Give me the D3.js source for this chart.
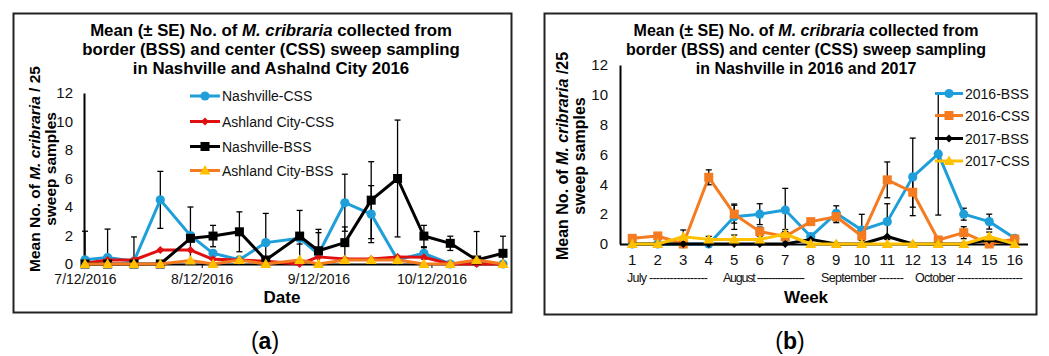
<!DOCTYPE html>
<html><head><meta charset="utf-8">
<script src="https://d3js.org/d3.v7.min.js"></script>
<style>
body{margin:0;background:#fff;}
text{font-family:"Liberation Sans",Arial,sans-serif;}
</style></head>
<body><svg id="c" width="1049" height="356"></svg>
<script>
// ---------- Data: panel (a) ----------
const leftDates = ["2016-07-12","2016-07-18","2016-07-25","2016-08-01","2016-08-09","2016-08-15","2016-08-22","2016-08-29","2016-09-07","2016-09-12","2016-09-19","2016-09-26","2016-10-03","2016-10-10","2016-10-17","2016-10-24","2016-10-31"];
const leftTickDates = ["2016-07-12","2016-08-12","2016-09-12","2016-10-12"];
const leftTickLabels = ["7/12/2016","8/12/2016","9/12/2016","10/12/2016"];
const nashCSS    = [0.3,0.45,0.2,4.5,2.0,0.75,0.3,1.5,1.8,0.7,4.3,3.5,0.3,0.75,0,0.1,0];
const nashCSSErr = [2.0,2.0,1.7,2.0,2.0,0,0,2.05,0.4,1.5,2.0,2.0,0,0.4,0,0,0];
const ashCSS     = [0.05,0.28,0.28,0.98,0.98,0.33,0.28,0.2,0,0.5,0.35,0.35,0.5,0.47,0,0,0];
const nashBSS    = [0,0,0,0,1.8,1.96,2.26,0.28,1.96,0.93,1.5,4.48,6.0,1.96,1.45,0.28,0.75];
const nashBSSErr = [0,0,0,0,0,0.75,1.4,0,1.8,1.5,1.1,2.7,4.1,0.75,0.5,2.0,1.2];
const ashBSS     = [0,0,0,0,0.25,0,0.28,0,0.28,0,0.28,0.28,0.28,0,0,0.28,0];
const leftNames  = ["Nashville-CSS","Ashland City-CSS","Nashville-BSS","Ashland City-BSS"];

// ---------- Data: panel (b) ----------
const weeks = ["1","2","3","4","5","6","7","8","9","10","11","12","13","14","15","16"];
const months = ["July -----------------","August ----------------","September -------","October -------------------"];
const bss2016    = [0,0,0,0,1.83,2.0,2.28,0.5,2.06,0.94,1.5,4.5,6.04,2.0,1.5,0.38];
const bss2016Err = [0,0,0,0,0.85,0.7,1.45,0,0.5,1.05,1.2,2.6,4.1,0.4,0.5,0];
const css2016    = [0.38,0.54,0,4.47,2.0,0.83,0.5,1.5,1.83,0.54,4.3,3.47,0.27,0.76,0,0.33];
const css2016Err = [0.1,0.2,0,0.5,0.6,0.3,0.3,0.2,0.4,0.3,1.2,1.0,0.2,0.4,0.1,0.1];
const bss2017    = [0,0,0,0,0,0,0,0.31,0,0,0.5,0,0,0,0.27,0];
const css2017    = [0,0,0.49,0.31,0.3,0.3,0.67,0,0,0,0,0,0,0,0.5,0];
const css2017Err = [0,0,0.45,0.2,0.3,0.3,0.3,0,0,0,0,0,0,0,0.3,0];
const rightNames = ["2016-BSS","2016-CSS","2017-BSS","2017-CSS"];
const yTicks = [0,2,4,6,8,10,12];

const svg = d3.select("#c");
const BLUE="#1f9fd9", RED="#e01010", ORANGE="#f47b20", YELLOW="#ffc000", BLACK="#000";

function marker(g, type, x, y, fill){
  if(type==="circle") g.append("circle").attr("cx",x).attr("cy",y).attr("r",4.6).attr("fill",fill);
  else if(type==="square") g.append("rect").attr("x",x-4.5).attr("y",y-4.5).attr("width",9).attr("height",9).attr("fill",fill);
  else if(type==="diamond") g.append("path").attr("d",`M${x},${y-4}L${x+4},${y}L${x},${y+4}L${x-4},${y}Z`).attr("fill",fill);
  else if(type==="triangle") g.append("path").attr("d",`M${x},${y-5.5}L${x+5.5},${y+4}L${x-5.5},${y+4}Z`).attr("fill",fill);
}
function errBars(g, xs, vals, errs, y){
  vals.forEach((v,i)=>{
    const e=errs[i]; if(!e) return;
    const x=xs[i], y1=y(v+e), y0=y(Math.max(v-e,0)), y0c=y(v-e);
    g.append("line").attr("x1",x).attr("x2",x).attr("y1",y1).attr("y2",y0).attr("stroke","#000").attr("stroke-width",1.3);
    g.append("line").attr("x1",x-3).attr("x2",x+3).attr("y1",y1).attr("y2",y1).attr("stroke","#000").attr("stroke-width",1.3);
    if(v-e>=0) g.append("line").attr("x1",x-3).attr("x2",x+3).attr("y1",y0c).attr("y2",y0c).attr("stroke","#000").attr("stroke-width",1.3);
  });
}
function series(g, xs, vals, y, line, mtype, mfill){
  const l=d3.line().x((d,i)=>xs[i]).y(d=>y(d));
  g.append("path").attr("d",l(vals)).attr("fill","none").attr("stroke",line).attr("stroke-width",3).attr("stroke-linejoin","round");
  vals.forEach((v,i)=>marker(g,mtype,xs[i],y(v),mfill));
}
function title(g, cx, l3, fs){
  const t=g.append("text").attr("text-anchor","middle").attr("font-weight","bold").attr("font-size",fs);
  const a=t.append("tspan").attr("x",cx).attr("y",36);
  a.append("tspan").text("Mean (\u00B1 SE) No. of ");
  a.append("tspan").attr("font-style","italic").text("M. cribraria");
  a.append("tspan").text(" collected from");
  t.append("tspan").attr("x",cx).attr("y",55).text("border (BSS) and center (CSS) sweep sampling");
  t.append("tspan").attr("x",cx).attr("y",74).text(l3);
}
function yTitle(g, x1, x2, cy, tail, fs){
  const t=g.append("text").attr("transform",`translate(${x1},${cy}) rotate(-90)`).attr("text-anchor","middle").attr("font-weight","bold").attr("font-size",fs);
  t.append("tspan").text("Mean No. of ");
  t.append("tspan").attr("font-style","italic").text("M. cribraria");
  t.append("tspan").text(tail);
  g.append("text").attr("transform",`translate(${x2},${cy}) rotate(-90)`).attr("text-anchor","middle").attr("font-weight","bold").attr("font-size",fs).text("sweep samples");
}

// ---------- Panel (a) ----------
{
  const g=svg.append("g");
  g.append("rect").attr("x",13.5).attr("y",13.5).attr("width",498).attr("height",299).attr("fill","none").attr("stroke","#222").attr("stroke-width",2);
  title(g, 271, "in Nashville and Ashalnd City 2016", 16.8);
  const parse=d3.utcParse("%Y-%m-%d");
  const x=d3.scaleUtc().domain([parse(leftDates[0]),parse(leftDates[leftDates.length-1])]).range([85,503]);
  const y=d3.scaleLinear().domain([0,12]).range([264,93]);
  const xs=leftDates.map(d=>x(parse(d)));
  const ya=g.append("g").attr("transform","translate(84,0)").call(d3.axisLeft(y).tickValues(yTicks).tickSize(0).tickPadding(11));
  ya.select(".domain").attr("stroke","#000").attr("stroke-width",2);
  ya.selectAll("text").attr("font-size",15).attr("font-family","Liberation Sans, Arial").attr("fill","#111");
  const xa=g.append("g").attr("transform","translate(0,264)").call(d3.axisBottom(x).tickValues(leftTickDates.map(parse)).tickFormat((d,i)=>leftTickLabels[i]).tickSizeInner(4).tickSizeOuter(0).tickPadding(6));
  xa.select(".domain").attr("stroke","#000").attr("stroke-width",2.2);
  xa.selectAll("text").attr("font-size",14).attr("font-family","Liberation Sans, Arial").attr("fill","#111");
  yTitle(g, 40, 56, 169, " / 25", 15.5);
  g.append("text").attr("x",282).attr("y",303).attr("text-anchor","middle").attr("font-weight","bold").attr("font-size",17).text("Date");
  const eb=g.append("g");
  errBars(eb,xs,nashCSS,nashCSSErr,y);
  errBars(eb,xs,nashBSS,nashBSSErr,y);
  series(g,xs,nashCSS,y,BLUE,"circle",BLUE);
  series(g,xs,ashCSS,y,RED,"diamond",RED);
  series(g,xs,nashBSS,y,BLACK,"square",BLACK);
  series(g,xs,ashBSS,y,ORANGE,"triangle",YELLOW);
  const lg=[[BLUE,"circle",BLUE],[RED,"diamond",RED],[BLACK,"square",BLACK],[ORANGE,"triangle",YELLOW]];
  const ly=[96,121.5,146.5,170.5];
  lg.forEach((s,i)=>{
    g.append("line").attr("x1",190).attr("x2",220).attr("y1",ly[i]).attr("y2",ly[i]).attr("stroke",s[0]).attr("stroke-width",3);
    marker(g,s[1],205,ly[i],s[2]);
    g.append("text").attr("x",222).attr("y",ly[i]+5).attr("font-size",14).attr("fill","#111").text(leftNames[i]);
  });
}

// ---------- Panel (b) ----------
{
  const g=svg.append("g");
  g.append("rect").attr("x",544.5).attr("y",13.5).attr("width",492).attr("height",301).attr("fill","none").attr("stroke","#222").attr("stroke-width",2);
  title(g, 806, "in Nashville in 2016 and 2017", 16.0);
  const x=d3.scaleBand().domain(weeks).range([619.5,1027.5]);
  const y=d3.scaleLinear().domain([0,12]).range([244,65]);
  const xs=weeks.map(w=>x(w)+x.bandwidth()/2);
  const ya=g.append("g").attr("transform","translate(620,0)").call(d3.axisLeft(y).tickValues(yTicks).tickSize(0).tickPadding(12));
  ya.select(".domain").attr("stroke","#000").attr("stroke-width",2);
  ya.selectAll("text").attr("font-size",15).attr("font-family","Liberation Sans, Arial").attr("fill","#111");
  const xa=g.append("g").attr("transform","translate(0,244)").call(d3.axisBottom(x).tickSize(0).tickPadding(10));
  xa.select(".domain").attr("stroke","#000").attr("stroke-width",2.2);
  xa.selectAll("text").attr("font-size",15).attr("font-family","Liberation Sans, Arial").attr("fill","#111");
  const mx=[[627,81],[723,82],[821,83],[915,108]];
  months.forEach((m,i)=>g.append("text").attr("x",mx[i][0]).attr("y",282).attr("font-size",12.5).attr("fill","#111").attr("textLength",mx[i][1]).attr("lengthAdjust","spacing").text(m));
  yTitle(g, 568, 585, 156, " /25", 16);
  g.append("text").attr("x",806).attr("y",303).attr("text-anchor","middle").attr("font-weight","bold").attr("font-size",17).text("Week");
  const eb=g.append("g");
  errBars(eb,xs,bss2016,bss2016Err,y);
  errBars(eb,xs,css2016,css2016Err,y);
  errBars(eb,xs,css2017,css2017Err,y);
  series(g,xs,bss2016,y,BLUE,"circle",BLUE);
  series(g,xs,css2016,y,ORANGE,"square",ORANGE);
  series(g,xs,bss2017,y,BLACK,"diamond",BLACK);
  series(g,xs,css2017,y,YELLOW,"triangle",YELLOW);
  const lg=[[BLUE,"circle",BLUE],[ORANGE,"square",ORANGE],[BLACK,"diamond",BLACK],[YELLOW,"triangle",YELLOW]];
  const ly=[93.5,115.5,138.5,161];
  lg.forEach((s,i)=>{
    g.append("line").attr("x1",935).attr("x2",963).attr("y1",ly[i]).attr("y2",ly[i]).attr("stroke",s[0]).attr("stroke-width",3);
    marker(g,s[1],949,ly[i],s[2]);
    g.append("text").attr("x",965).attr("y",ly[i]+5).attr("font-size",14).attr("fill","#111").text(rightNames[i]);
  });
}

// ---------- panel letters ----------
[["a",265],["b",790]].forEach(([l,x])=>{
  const t=svg.append("text").attr("x",x).attr("y",349).attr("text-anchor","middle").attr("font-family","Liberation Serif, serif").attr("font-size",23);
  t.append("tspan").text("(");
  t.append("tspan").attr("font-weight","bold").text(l);
  t.append("tspan").text(")");
});
</script></body></html>
